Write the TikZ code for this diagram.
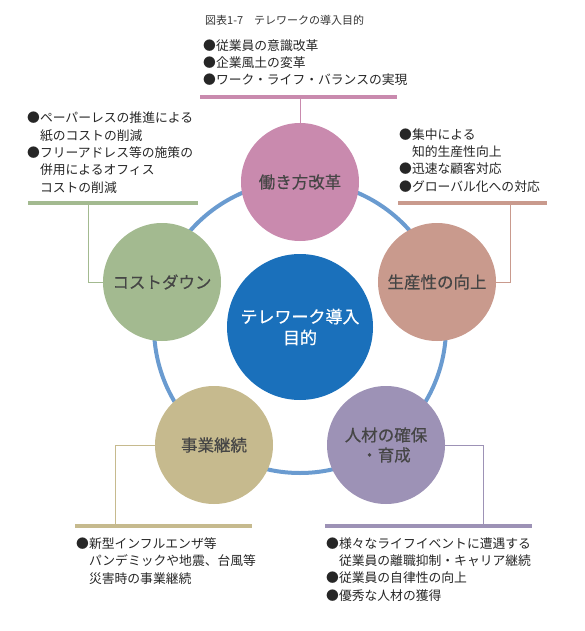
\documentclass[tikz,border=0pt]{standalone}
\usepackage{fontspec}
\setmainfont{Noto Sans CJK JP}
\usetikzlibrary{positioning, calc}

\definecolor{ringblue}{HTML}{6A9BD0}
\definecolor{coreblue}{HTML}{1A70BB}
\definecolor{workpink}{HTML}{C98AAE}
\definecolor{prodrose}{HTML}{C99A8D}
\definecolor{talentpurple}{HTML}{9D92B6}
\definecolor{bizkhaki}{HTML}{C6BA8E}
\definecolor{costgreen}{HTML}{A3BA90}
\definecolor{labelgray}{HTML}{454545}

\begin{document}
\begin{tikzpicture}[x=1pt, y=-1pt,
    goal/.style={circle, minimum size=118pt, inner sep=0pt, align=center,
        text=labelgray, font=\fontsize{16.5}{20}\selectfont\addfontfeature{FakeBold=0.4}},
    note/.style={anchor=base west, inner sep=0pt, align=left,
        text=black!85, font=\fontsize{12.8}{17.3}\selectfont},
    bar/.style={line width=4pt},
    lead/.style={line width=0.9pt}]
    \useasboundingbox (0,0) rectangle (584,631);

    % タイトル
    \node[anchor=base west, inner sep=0pt, text=black!80,
        font=\fontsize{11}{13}\selectfont] (title) at (205,25) {図表1-7　テレワークの導入目的};

    % 中心と輪
    \node[goal, minimum size=146pt, fill=coreblue, text=white,
        font=\fontsize{17}{21}\selectfont\addfontfeature{FakeBold=0.4}] (core) at (300,327) {テレワーク導入\\目的};
    \draw[ringblue, line width=4pt] (core.center) circle (146pt);

    % 五つの目的
    \node[goal, fill=workpink] (work) at (300,182) {働き方改革};
    \node[goal, fill=prodrose] (prod) at (437,282) {生産性の向上};
    \node[goal, fill=talentpurple] (talent) at (386,445) {人材の確保\\・育成};
    \node[goal, fill=bizkhaki] (biz) at (214,445) {事業継続};
    \node[goal, fill=costgreen] (cost) at (162,282) {コストダウン};

    % 上（base は最終行）
    \node[note] (worknote) at (203,85) {●従業員の意識改革\\●企業風土の変革\\●ワーク・ライフ・バランスの実現};
    \draw[bar, workpink] (200,97) -- (397,97);
    \coordinate (workbar) at (300,97);
    \draw[lead, workpink] (workbar) -- (work);

    % 左
    \node[note] (costnote) at (27,192) {●ペーパーレスの推進による\\\phantom{●}紙のコストの削減\\●フリーアドレス等の施策の\\\phantom{●}併用によるオフィス\\\phantom{●}コストの削減};
    \draw[bar, costgreen] (28,203) -- (198,203);
    \coordinate (costbar) at (88,203);
    \draw[lead, costgreen] (costbar) |- (cost);

    % 右
    \node[note] (prodnote) at (399,191) {●集中による\\\phantom{●}知的生産性向上\\●迅速な顧客対応\\●グローバル化への対応};
    \draw[bar, prodrose] (398,203) -- (547,203);
    \coordinate (prodbar) at (510,203);
    \draw[lead, prodrose] (prodbar) |- (prod);

    % 左下
    \node[note] (biznote) at (76,583) {●新型インフルエンザ等\\\phantom{●}パンデミックや地震、台風等\\\phantom{●}災害時の事業継続};
    \draw[bar, bizkhaki] (75,526) -- (252,526);
    \coordinate (bizbar) at (115,526);
    \draw[lead, bizkhaki] (bizbar) |- (biz);

    % 右下
    \node[note] (talentnote) at (326,600) {●様々なライフイベントに遭遇する\\\phantom{●}従業員の離職抑制・キャリア継続\\●従業員の自律性の向上\\●優秀な人材の獲得};
    \draw[bar, talentpurple] (325,526) -- (532,526);
    \coordinate (talentbar) at (483,526);
    \draw[lead, talentpurple] (talentbar) |- (talent);
\end{tikzpicture}
\end{document}
